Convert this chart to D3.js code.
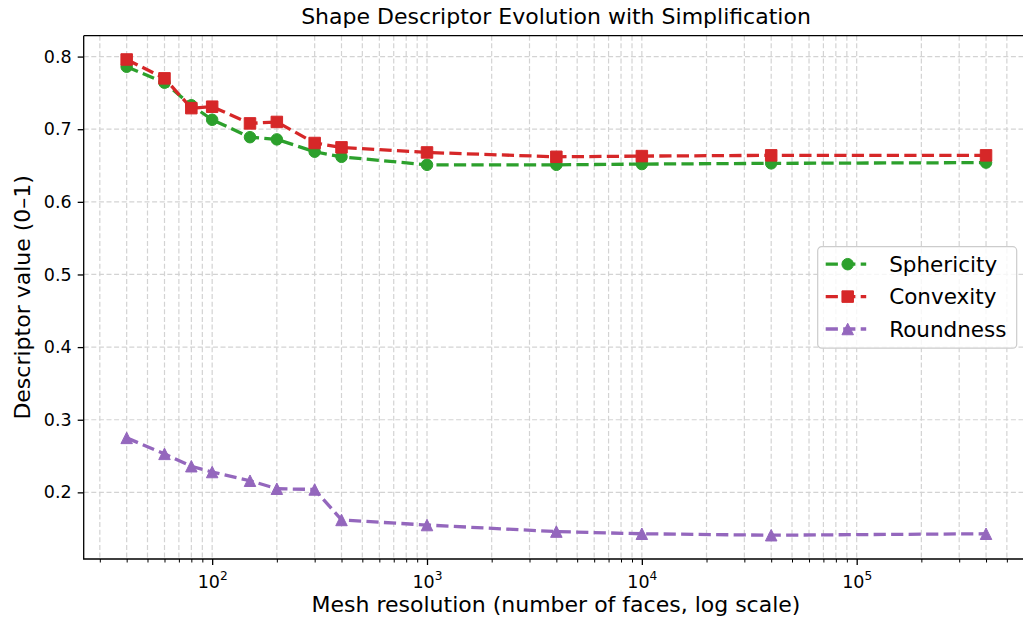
<!DOCTYPE html>
<meta charset="utf-8">
<script src="https://d3js.org/d3.v7.min.js"></script>
<style>
  body { margin: 0; background: #fff; }
  text { font-family: "DejaVu Sans", sans-serif; fill: #000; }
</style>
<div id="chart"></div>
<script>

// data
var faces      = [40, 60, 80, 100, 150, 200, 300, 400, 1000, 4000, 10000, 40000, 400000];
var sphericity = [0.786, 0.764, 0.733, 0.713, 0.689, 0.686, 0.669, 0.662, 0.651, 0.651, 0.652, 0.653, 0.654];
var convexity  = [0.796, 0.770, 0.729, 0.731, 0.708, 0.710, 0.681, 0.675, 0.668, 0.662, 0.663, 0.664, 0.664];
var roundness  = [0.275, 0.253, 0.236, 0.228, 0.216, 0.205, 0.204, 0.162, 0.155, 0.146, 0.143, 0.141, 0.143];
var seriesNames = ["Sphericity", "Convexity", "Roundness"];
var yTicks = [0.2, 0.3, 0.4, 0.5, 0.6, 0.7, 0.8];
var xMajor = [100, 1000, 10000, 100000];

var series = [
  {name: seriesNames[0], values: sphericity, color: "#2ca02c", marker: "circle"},
  {name: seriesNames[1], values: convexity,  color: "#d62728", marker: "square"},
  {name: seriesNames[2], values: roundness,  color: "#9467bd", marker: "triangle"}
];

// layout
var W = 1023, H = 622;
var margin = {top: 35.7, left: 83.7, bottom: 63, right: -6};
var width = W - margin.left - margin.right,
    height = H - margin.top - margin.bottom;

var svg = d3.select("#chart").append("svg")
  .attr("width", W).attr("height", H)
  .style("display", "block");

var g = svg.append("g")
  .attr("transform", "translate(" + margin.left + "," + margin.top + ")");

// scales with matplotlib-like 5% padding
var lx = d3.extent(faces).map(Math.log10);
var pad = (lx[1] - lx[0]) * 0.05;
var x = d3.scaleLog()
  .domain([Math.pow(10, lx[0] - pad), Math.pow(10, lx[1] + pad)])
  .range([0, width]);

var all = sphericity.concat(convexity, roundness);
var ye = d3.extent(all);
var ypad = (ye[1] - ye[0]) * 0.05;
var y = d3.scaleLinear()
  .domain([ye[0] - ypad, ye[1] + ypad])
  .range([height, 0]);

// minor ticks for the log axis
var xMinor = [];
for (var e = 1; e <= 6; e++) {
  for (var m = 2; m <= 9; m++) {
    var v = m * Math.pow(10, e);
    if (v > x.domain()[0] && v < x.domain()[1]) xMinor.push(v);
  }
}

// grid
var grid = g.append("g").attr("class", "grid");
grid.selectAll(".gx")
  .data(xMajor.concat(xMinor))
  .enter().append("line")
    .attr("x1", function(d) { return x(d); })
    .attr("x2", function(d) { return x(d); })
    .attr("y1", 0).attr("y2", height)
    .style("stroke", "#d3d3d3")
    .style("stroke-width", 1.2)
    .style("stroke-dasharray", "5,2.6");
grid.selectAll(".gy")
  .data(yTicks)
  .enter().append("line")
    .attr("x1", 0).attr("x2", width)
    .attr("y1", function(d) { return y(d); })
    .attr("y2", function(d) { return y(d); })
    .style("stroke", "#d3d3d3")
    .style("stroke-width", 1.2)
    .style("stroke-dasharray", "5,2.6");

// axes
var xAxis = g.append("g")
  .attr("transform", "translate(0," + height + ")")
  .call(d3.axisBottom(x).tickValues(xMajor).tickSize(6).tickSizeOuter(0));
xAxis.select(".domain").remove();
xAxis.selectAll(".tick line").style("stroke-width", 1.3);
xAxis.selectAll(".tick text")
  .attr("y", 28.5).attr("dy", null)
  .style("font-size", "17.5px")
  .each(function(d) {
    var t = d3.select(this).text("");
    t.append("tspan").text("10");
    t.append("tspan").attr("dy", -8).style("font-size", "12.2px")
      .text(Math.round(Math.log10(d)));
  });

var xMinorAxis = g.append("g")
  .attr("transform", "translate(0," + height + ")")
  .call(d3.axisBottom(x).tickValues(xMinor).tickSize(3.5).tickFormat(""));
xMinorAxis.select(".domain").remove();
xMinorAxis.selectAll(".tick line").style("stroke-width", 1);

var yAxis = g.append("g")
  .call(d3.axisLeft(y).tickValues(yTicks).tickSize(6).tickPadding(6)
    .tickFormat(d3.format(".1f")));
yAxis.select(".domain").remove();
yAxis.selectAll(".tick line").style("stroke-width", 1.3);
yAxis.selectAll(".tick text").style("font-size", "17.5px");

// spines
g.append("path")
  .attr("d", "M0,0H" + width + "M0,0V" + height + "H" + width + "M" + width + ",0V" + height)
  .style("fill", "none").style("stroke", "#000").style("stroke-width", 1.3);

// markers
var ms = 11.5;
function markerPath(type) {
  var h = ms / 2;
  if (type === "circle") return d3.symbol().type(d3.symbolCircle).size(Math.PI * h * h)();
  if (type === "square") return "M" + (-h) + "," + (-h) + "H" + h + "V" + h + "H" + (-h) + "Z";
  return "M0," + (-h) + "L" + h + "," + h + "L" + (-h) + "," + h + "Z";
}

var line = d3.line()
  .x(function(d, i) { return x(faces[i]); })
  .y(function(d) { return y(d); });

series.forEach(function(s) {
  var sg = g.append("g");
  sg.append("path")
    .datum(s.values)
    .attr("d", line)
    .style("fill", "none")
    .style("stroke", s.color)
    .style("stroke-width", 3.3)
    .style("stroke-dasharray", "12.2,5.3");
  sg.selectAll(".pt")
    .data(s.values)
    .enter().append("path")
      .attr("transform", function(d, i) { return "translate(" + x(faces[i]) + "," + y(d) + ")"; })
      .attr("d", markerPath(s.marker))
      .style("fill", s.color)
      .style("stroke", s.color)
      .style("stroke-width", 1);
});

// legend
var legend = svg.append("g").attr("transform", "translate(817.7,246.7)");
legend.append("rect")
  .attr("width", 199).attr("height", 101.5)
  .attr("rx", 4)
  .style("fill", "#fff").style("fill-opacity", 0.8)
  .style("stroke", "#cccccc").style("stroke-width", 1.2);
series.forEach(function(s, i) {
  var ly = 17.5 + i * 32.4;
  var row = legend.append("g").attr("transform", "translate(0," + ly + ")");
  row.append("line")
    .attr("x1", 8).attr("x2", 48.5)
    .style("stroke", s.color).style("stroke-width", 3.3)
    .style("stroke-dasharray", "12.2,5.3");
  row.append("path")
    .attr("transform", "translate(30,0)")
    .attr("d", markerPath(s.marker))
    .style("fill", s.color).style("stroke", s.color).style("stroke-width", 1);
  row.append("text")
    .attr("x", 71.5).attr("y", 7.8)
    .style("font-size", "21.5px")
    .text(s.name);
});

// titles
svg.append("text")
  .attr("x", 556).attr("y", 24)
  .attr("text-anchor", "middle")
  .style("font-size", "22px")
  .text("Shape Descriptor Evolution with Simplification");

svg.append("text")
  .attr("x", 556).attr("y", 612)
  .attr("text-anchor", "middle")
  .style("font-size", "22px")
  .text("Mesh resolution (number of faces, log scale)");

svg.append("text")
  .attr("transform", "translate(29.5," + (margin.top + height / 2) + ") rotate(-90)")
  .attr("text-anchor", "middle")
  .style("font-size", "22px")
  .text("Descriptor value (0–1)");

</script>
